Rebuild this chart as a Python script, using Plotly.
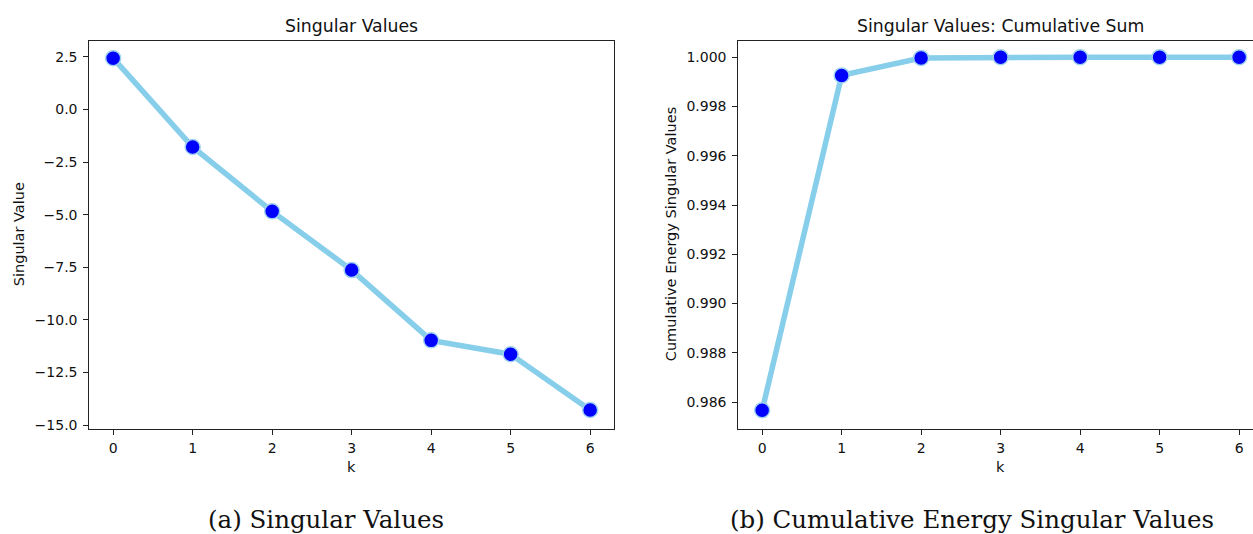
import plotly.graph_objects as go

k = [0, 1, 2, 3, 4, 5, 6]
singular_values = [2.44, -1.78, -4.84, -7.63, -10.97, -11.63, -14.28]
cumulative_energy = [0.98567, 0.99926, 0.99997, 1.0, 1.0, 1.0, 1.0]

W, H = 1253, 534
FONT = "DejaVu Sans"
SERIF = "DejaVu Serif"

def px_x(x):
    return x / W

def px_y(y):
    return 1 - y / H

line_style = dict(color="#87CEEB", width=5.5)
marker_style = dict(color="#0000FF", size=15, line=dict(color="#9fd3ef", width=1.5))

fig = go.Figure()
fig.add_trace(go.Scatter(x=k, y=singular_values, mode="lines+markers",
                         line=line_style, marker=marker_style,
                         xaxis="x", yaxis="y", cliponaxis=False, showlegend=False))
fig.add_trace(go.Scatter(x=k, y=cumulative_energy, mode="lines+markers",
                         line=line_style, marker=marker_style,
                         xaxis="x2", yaxis="y2", cliponaxis=False, showlegend=False))

ydom = [px_y(432), px_y(41)]
axis_common = dict(showgrid=False, zeroline=False, showline=True, linecolor="#222",
                   linewidth=1, ticks="outside", ticklen=5, tickcolor="#222",
                   tickfont=dict(family=FONT, size=14, color="#111"))

fig.update_layout(
    width=W, height=H,
    margin=dict(l=0, r=0, t=0, b=0),
    paper_bgcolor="white", plot_bgcolor="white",
    xaxis=dict(domain=[px_x(89.3), px_x(614)], range=[-0.3, 6.3], dtick=1,
               mirror=True, anchor="y", ticklabelstandoff=1, **axis_common),
    yaxis=dict(domain=ydom, range=[-15.17, 3.27], dtick=2.5, tick0=0,
               tickformat=".1f", mirror=True, anchor="x", ticklabelstandoff=3,
               **axis_common),
    xaxis2=dict(domain=[px_x(738.3), 1.0], range=[-0.3, 6.175], dtick=1,
                mirror=True, anchor="y2", ticklabelstandoff=1, **axis_common),
    yaxis2=dict(domain=ydom, range=[0.98492, 1.00067], dtick=0.002, tick0=0.986,
                tickformat=".3f", mirror=False, anchor="x2", ticklabelstandoff=3,
                **axis_common),
)

ann = []
def text(x, y, s, size=14, family=FONT, angle=0):
    ann.append(dict(x=px_x(x), y=px_y(y), xref="paper", yref="paper", text=s,
                    showarrow=False, xanchor="center", yanchor="middle",
                    textangle=angle, font=dict(family=family, size=size, color="#111")))

text(351, 26, "Singular Values", size=17.3)
text(1000, 26, "Singular Values: Cumulative Sum", size=17.3)
text(351, 471, "k", size=14.5)
text(1000, 471, "k", size=14.5)
text(19, 236, "Singular Value", size=14.5, angle=-90)
text(671, 236, "Cumulative Energy Singular Values", size=14.5, angle=-90)
text(326, 523, "(a) Singular Values", size=24.5, family=SERIF)
text(972, 523, "(b) Cumulative Energy Singular Values", size=24.5, family=SERIF)
fig.update_layout(annotations=ann)

fig.write_html("out.html", config={"displayModeBar": False},
               post_script="document.body.style.margin='0';document.body.style.overflow='hidden';")
